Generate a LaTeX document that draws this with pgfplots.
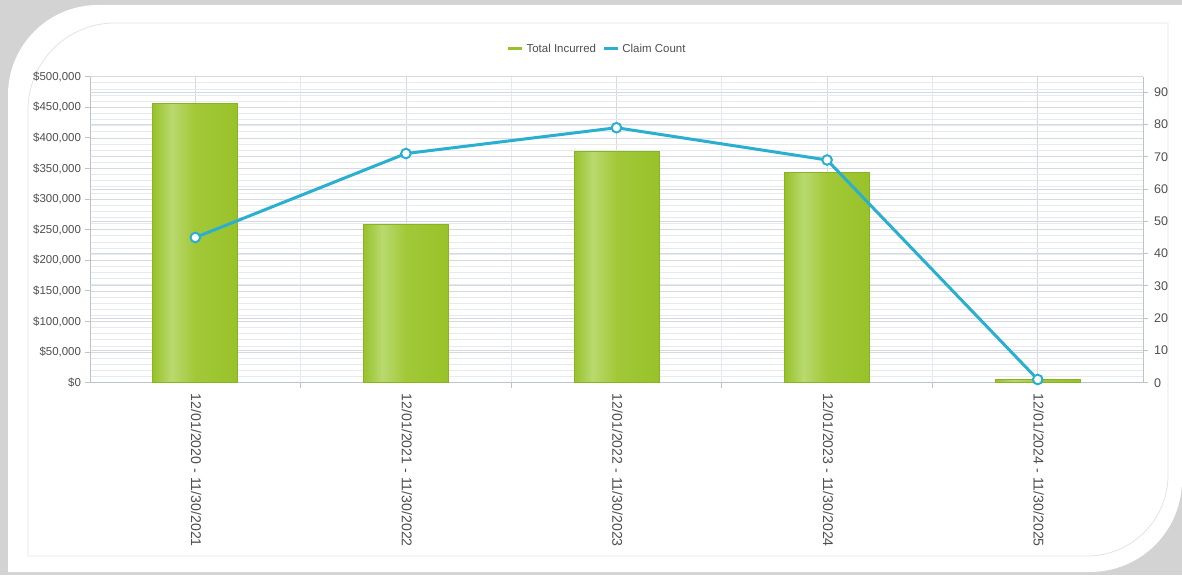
\documentclass[border=0pt]{standalone}
\usepackage{pgfplots}
\pgfplotsset{compat=1.18}
\usepackage{fontspec}
\setmainfont{Liberation Sans}

\definecolor{bggray}{HTML}{D3D3D3}
\definecolor{innerline}{HTML}{E4E4E4}
\definecolor{barA}{HTML}{98C22A}
\definecolor{barB}{HTML}{B9D96F}
\definecolor{barC}{HTML}{A2C838}
\definecolor{barborder}{HTML}{88B322}
\definecolor{lineblue}{HTML}{2AAFCF}
\definecolor{txtgray}{HTML}{4F4F4F}
\definecolor{gridmaj}{HTML}{D4D9E2}
\definecolor{gridmin}{HTML}{E6E9EE}
\definecolor{axisgray}{HTML}{BCC3CD}

% visible part of a tikz shading is 25bp..75bp
\pgfdeclarehorizontalshading{barshade}{100bp}{color(0bp)=(barA); color(25bp)=(barA); color(36bp)=(barB); color(50bp)=(barC); color(75bp)=(barA); color(100bp)=(barA)}

\pgfplotsset{
  common/.style={
    at={(67.5pt,144.2pt)}, anchor=south west,
    scale only axis, width=789.75pt, height=229.5pt,
    xmin=-0.5, xmax=4.5, ymin=0,
    tick align=outside,
    major tick length=3.75pt, minor tick length=3.75pt,
    tick style={draw=axisgray, line width=0.75pt},
    axis line style={draw=axisgray, line width=0.75pt},
    ticklabel style={font=\fontsize{8.6}{10}\selectfont, text=txtgray},
    major grid style={draw=gridmaj, line width=0.6pt},
    minor grid style={draw=gridmin, line width=0.6pt},
    /pgf/number format/assume math mode=true,
  },
  bar/.style={ybar, bar width=63.75pt, bar shift=0pt, shading=barshade,
    draw=barborder, line width=0.6pt, forget plot},
}

\begin{document}
\begin{tikzpicture}[x=0.75pt,y=0.75pt]
% card background
\fill[bggray] (0,0) rectangle (1182,575);
\fill[white] (8,3) -- (8,480) arc[start angle=180,end angle=90,radius=90]
  -- (1182,570) -- (1182,95) arc[start angle=0,end angle=-90,radius=92] -- cycle;
\draw[innerline, line width=0.6pt] (28,19) -- (28,465) arc[start angle=180,end angle=90,radius=87]
  -- (1168,552) -- (1168,100) arc[start angle=0,end angle=-90,radius=81] -- cycle;

% bars, left axis
\begin{axis}[
  common,
  ymax=500000,
  axis y line*=left, axis x line*=bottom,
  xtick={0,1,2,3,4},
  xticklabels={12/01/2020 - 11/30/2021, 12/01/2021 - 11/30/2022, 12/01/2022 - 11/30/2023,
               12/01/2023 - 11/30/2024, 12/01/2024 - 11/30/2025},
  minor xtick={0.5,1.5,2.5,3.5},
  ytick={0,50000,...,500000},
  yticklabels={{\$0},{\$50,000},{\$100,000},{\$150,000},{\$200,000},{\$250,000},
               {\$300,000},{\$350,000},{\$400,000},{\$450,000},{\$500,000}},
  scaled y ticks=false,
  minor y tick num=4,
  grid=both,
  % grid lines of the right (claim count) axis: v * 500000/94.8
  extra y ticks={52743,105485,158228,210970,263713,316456,369198,421941,474684},
  extra y tick labels={},
  extra y tick style={grid=major, tick style={draw=none}},
  every major x tick/.append style={draw=none},
  every minor y tick/.append style={draw=none},
  xticklabel style={font=\fontsize{10.6}{12}\selectfont, xshift=0.75pt, yshift=-1pt, rotate=-90, anchor=west},
  yticklabel style={xshift=0.5pt},
  legend style={at={(0.482,1.091)}, anchor=center, draw=none, fill=none,
    legend columns=2, font=\fontsize{8.6}{10}\selectfont, text=txtgray,
    /tikz/every even column/.append style={column sep=3pt}},
  legend image code/.code={\draw[line width=2.25pt,#1] (0pt,0pt) -- (10.5pt,0pt);},
]
\addplot[bar] coordinates {(0,456500)};
\addplot[bar] coordinates {(1,259000)};
\addplot[bar] coordinates {(2,378600)};
\addplot[bar] coordinates {(3,344000)};
\addplot[bar] coordinates {(4,6000)};
\addlegendimage{draw=barA}
\addlegendentry{Total Incurred}
\addlegendimage{draw=lineblue}
\addlegendentry{Claim Count}
\end{axis}

% claim count, right axis
\begin{axis}[
  common,
  ymax=94.8,
  axis y line*=right, axis x line=none,
  ytick={0,10,...,90},
  yticklabel style={font=\fontsize{9.4}{11}\selectfont, xshift=1pt},
]
\addplot[color=lineblue, line width=2.25pt, mark=*, mark size=3.6pt,
  mark options={fill=white, draw=lineblue, line width=1.5pt}]
  coordinates {(0,45) (1,71) (2,79) (3,69) (4,1)};
\end{axis}

\pgfresetboundingbox
\path (0,0) rectangle (1182,575);
\end{tikzpicture}
\end{document}
